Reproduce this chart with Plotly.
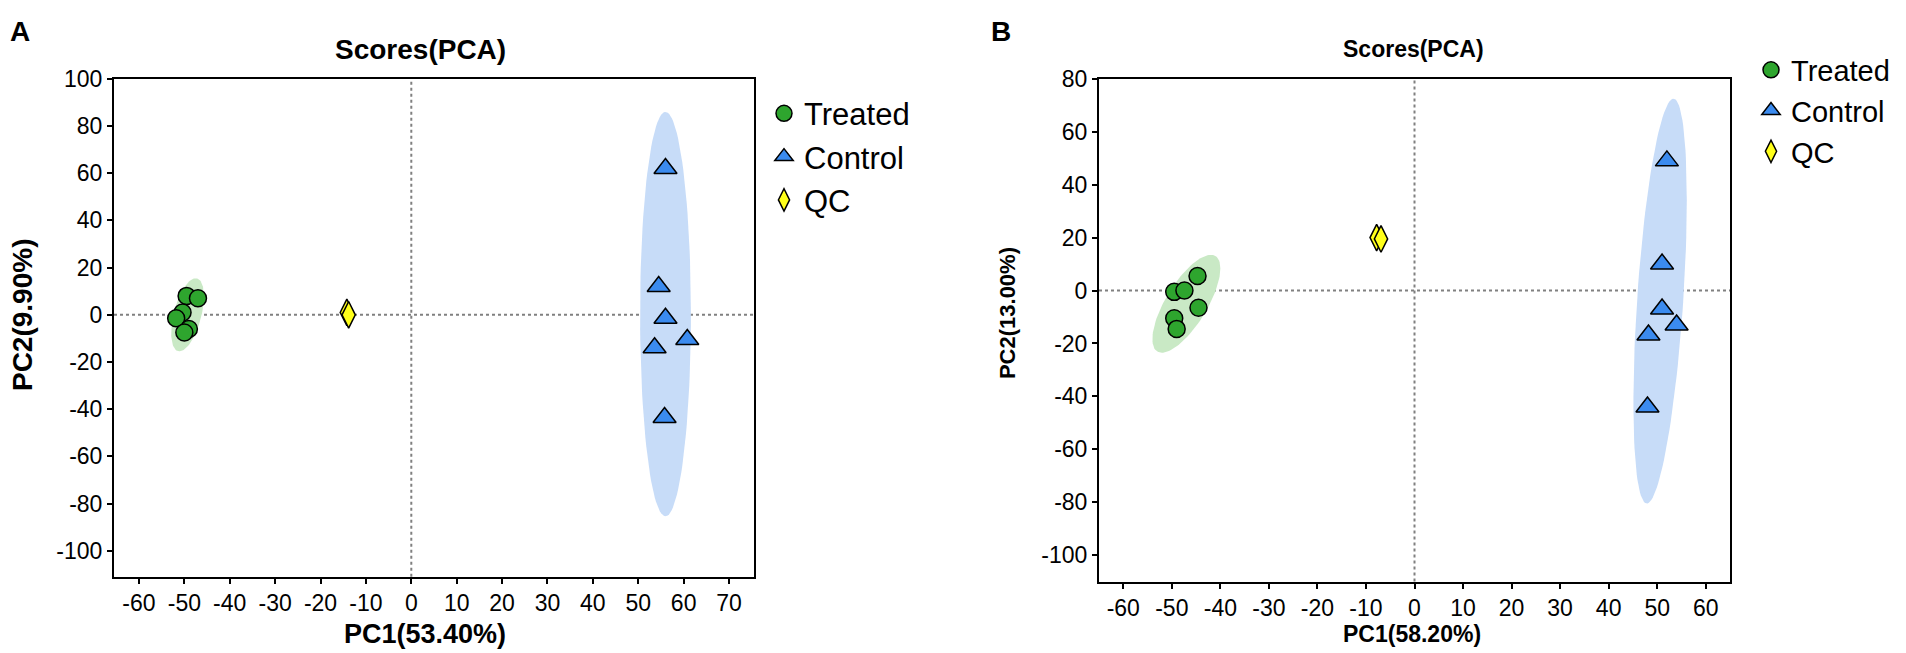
import numpy as np
import plotly.graph_objects as go

# --- panel A scores ---
treated_a_pc1 = [-49.5, -47.0, -50.4, -51.8, -49.0, -50.0]
treated_a_pc2 = [8.0, 7.0, 1.0, -1.5, -6.0, -7.5]
control_a_pc1 = [56.0, 54.5, 56.0, 60.8, 53.6, 55.8]
control_a_pc2 = [62.0, 12.0, -1.5, -10.5, -14.0, -43.5]
qc_a_pc1 = [-14.2, -13.8]
qc_a_pc2 = [1.0, 0.0]

# --- panel B scores ---
treated_b_pc1 = [-49.5, -47.4, -44.7, -44.5, -49.5, -49.0]
treated_b_pc2 = [-0.5, 0.0, 5.5, -6.5, -10.5, -14.5]
control_b_pc1 = [52.0, 51.0, 51.0, 54.0, 48.2, 48.0]
control_b_pc2 = [49.0, 10.0, -7.0, -13.0, -16.8, -44.0]
qc_b_pc1 = [-7.8, -6.9]
qc_b_pc2 = [20.0, 19.5]

# ellipses: centre x, centre y, half-width x, half-height y, tilt (correlation)
ell_treated_a = [-49.3, 0.0, 3.6, 15.5, 0.5]
ell_control_a = [56.0, 0.3, 5.6, 85.7, 0.0]
ell_treated_b = [-47.0, -5.0, 7.0, 18.5, 0.72]
ell_control_b = [50.6, -4.0, 5.5, 76.5, 0.5]

groups = ["Treated", "Control", "QC"]
xticks_a = list(range(-60, 80, 10))
yticks_a = list(range(-100, 120, 20))
xticks_b = list(range(-60, 70, 10))
yticks_b = list(range(-100, 100, 20))

GREEN = "#2ea52e"
BLUE = "#3b8bef"
YELLOW = "#ffff1a"
FONT = "Liberation Sans, Arial, sans-serif"


def ellipse(p):
    cx, cy, sx, sy, r = p
    t = np.linspace(0, 2 * np.pi, 120)
    x = cx + sx * np.cos(t)
    y = cy + sy * (r * np.cos(t) + np.sqrt(1 - r ** 2) * np.sin(t))
    return x, y


fig = go.Figure()

panels = [
    ("x", "y", "legend", ell_treated_a, ell_control_a,
     [(treated_a_pc1, treated_a_pc2), (control_a_pc1, control_a_pc2), (qc_a_pc1, qc_a_pc2)]),
    ("x2", "y2", "legend2", ell_treated_b, ell_control_b,
     [(treated_b_pc1, treated_b_pc2), (control_b_pc1, control_b_pc2), (qc_b_pc1, qc_b_pc2)]),
]

for xa, ya, leg, e_t, e_c, pts in panels:
    for p, col in [(e_t, "#c9e9c5"), (e_c, "#c7dcf8")]:
        ex, ey = ellipse(p)
        fig.add_trace(go.Scatter(x=ex, y=ey, xaxis=xa, yaxis=ya, mode="lines",
                                 fill="toself", fillcolor=col, line=dict(width=0),
                                 showlegend=False, hoverinfo="skip"))
    styles = [("circle", GREEN, 17), ("triangle-up", BLUE, 20), ("diamond-tall", YELLOW, 19)]
    for name, (px_, py_), (sym, col, size) in zip(groups, pts, styles):
        fig.add_trace(go.Scatter(x=px_, y=py_, xaxis=xa, yaxis=ya, mode="markers", name=name,
                                 legend=leg,
                                 marker=dict(symbol=sym, color=col, size=size,
                                             line=dict(color="black", width=1.5))))

# dotted zero lines
for xr, yr in [("x", "y"), ("x2", "y2")]:
    fig.add_shape(type="line", xref=xr, yref=yr + " domain", x0=0, x1=0, y0=0, y1=1,
                  line=dict(color="#808080", width=2, dash="dot"), layer="below")
    fig.add_shape(type="line", xref=xr + " domain", yref=yr, x0=0, x1=1, y0=0, y1=0,
                  line=dict(color="#808080", width=2, dash="dot"), layer="below")

W, H = 1906, 653
axis_common = dict(showgrid=False, zeroline=False, showline=True, linecolor="black",
                   linewidth=2, mirror=True, ticks="outside", ticklen=5, tickwidth=1.5,
                   tickcolor="black", tickfont=dict(family=FONT, size=23, color="black"))


def labels(vals):
    return [str(v) for v in vals]


fig.update_layout(
    width=W, height=H,
    margin=dict(l=0, r=0, t=0, b=0),
    plot_bgcolor="white", paper_bgcolor="white",
    font=dict(family=FONT, color="black"),
    xaxis=dict(domain=[106 / W, 746 / W], range=[-65.5, 75.5], tickvals=xticks_a,
               ticktext=labels(xticks_a), anchor="y", **axis_common),
    yaxis=dict(domain=[1 - 567 / H, 1 - 59 / H], range=[-111, 100], tickvals=yticks_a,
               ticktext=labels(yticks_a), anchor="x", **axis_common),
    xaxis2=dict(domain=[1091 / W, 1722 / W], range=[-65, 65], tickvals=xticks_b,
                ticktext=labels(xticks_b), anchor="y2", **axis_common),
    yaxis2=dict(domain=[1 - 572 / H, 1 - 59 / H], range=[-110, 80], tickvals=yticks_b,
                ticktext=labels(yticks_b), anchor="x2", **axis_common),
    legend=dict(x=756 / W, y=1 - 67 / H, xanchor="left", yanchor="top",
                font=dict(family=FONT, size=31), bgcolor="rgba(0,0,0,0)"),
    legend2=dict(x=1743 / W, y=1 - 24 / H, xanchor="left", yanchor="top",
                 font=dict(family=FONT, size=29), bgcolor="rgba(0,0,0,0)"),
)

texts = [
    ("<b>A</b>", 0, 1 + 7 / H, 28, "left", "top", 0),
    ("<b>B</b>", 981 / W, 1 + 7 / H, 28, "left", "top", 0),
    ("<b>Scores(PCA)</b>", 412 / W, 1 - 29 / H, 28, "center", "middle", 0),
    ("<b>Scores(PCA)</b>", 1405 / W, 1 - 29 / H, 23, "center", "middle", 0),
    ("<b>PC1(53.40%)</b>", 417 / W, 1 - 625 / H, 27, "center", "middle", 0),
    ("<b>PC2(9.90%)</b>", 14 / W, 1 - 300 / H, 28, "center", "middle", -90),
    ("<b>PC1(58.20%)</b>", 1404 / W, 1 - 625 / H, 23, "center", "middle", 0),
    ("<b>PC2(13.00%)</b>", 999 / W, 1 - 298 / H, 22, "center", "middle", -90),
]
for txt, x, y, size, xa, ya, ang in texts:
    fig.add_annotation(text=txt, x=x, y=y, xref="paper", yref="paper", showarrow=False,
                       xanchor=xa, yanchor=ya, textangle=ang,
                       font=dict(family=FONT, size=size, color="black"))

fig.write_html("out.html")
